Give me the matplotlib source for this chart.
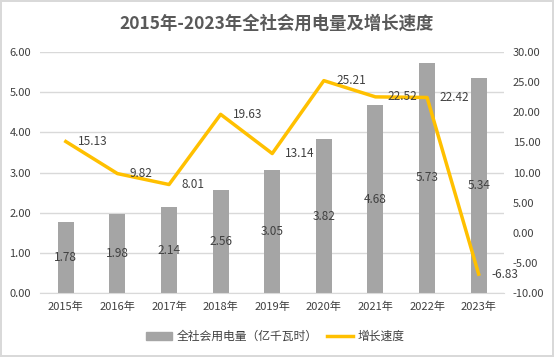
import matplotlib.pyplot as plt
import matplotlib.patches as mpatches
import numpy as np

plt.rcParams['font.family'] = ['Noto Sans CJK SC', 'DejaVu Sans']

years = ["2015年", "2016年", "2017年", "2018年", "2019年", "2020年", "2021年", "2022年", "2023年"]
usage = [1.78, 1.98, 2.14, 2.56, 3.05, 3.82, 4.68, 5.73, 5.34]
growth = [15.13, 9.82, 8.01, 19.63, 13.14, 25.21, 22.52, 22.42, -6.83]

txt = "#404040"
bar_color = "#a5a5a5"
line_color = "#ffc000"

fig = plt.figure(figsize=(5.54, 3.57), dpi=100)
fig.patch.set_edgecolor("#d9d9d9")
fig.patch.set_linewidth(1.5)
ax = fig.add_axes([0.0722, 0.1784, 0.8384, 0.6768])
x = np.arange(len(years))

ax.bar(x, usage, 0.31, color=bar_color, zorder=2)
ax.set_ylim(0, 6)
yt = np.arange(0, 6.01, 1)
ax.set_yticks(yt, [f"{v:.2f}" for v in yt])
ax.set_xlim(-0.5, len(years) - 0.5)
ax.set_xticks(x, years)
ax.grid(axis="y", color="#d9d9d9", linewidth=1, zorder=0)
for s in ["top", "right", "left"]:
    ax.spines[s].set_visible(False)
ax.spines["bottom"].set_color("#d9d9d9")
ax.tick_params(length=0, labelsize=8, colors=txt, pad=6)
ax.tick_params(axis="y", pad=6.5)
# value labels sit in the middle of each bar
for i, v in enumerate(usage):
    ax.text(i, v / 2, f"{v:.2f}", ha="center", va="center", fontsize=8.5, color=txt, zorder=5)

ax2 = ax.twinx()
ax2.plot(x, growth, color=line_color, linewidth=2.5, zorder=3)
ax2.set_ylim(-10, 30)
yt2 = np.arange(-10, 30.1, 5)
ax2.set_yticks(yt2, [f"{v:.2f}" for v in yt2])
for s in ["top", "right", "left", "bottom"]:
    ax2.spines[s].set_visible(False)
ax2.tick_params(length=0, labelsize=8, colors=txt, pad=6)
for i, v in enumerate(growth):
    ax2.annotate(f"{v:.2f}", (i, v), xytext=(9, 0), textcoords="offset points",
                 ha="left", va="center", fontsize=8.5, color=txt, zorder=5)

fig.suptitle("2015年-2023年全社会用电量及增长速度", y=0.96, fontsize=12.5,
             fontweight="bold", color="#595959")

handles = [mpatches.Patch(color=bar_color, label="全社会用电量（亿千瓦时）"),
           plt.Line2D([], [], color=line_color, linewidth=2.5, label="增长速度")]
fig.legend(handles=handles, loc="center", bbox_to_anchor=(0.497, 0.057), ncol=2, frameon=False,
           fontsize=8.5, labelcolor=txt, handlelength=2.2, columnspacing=0.8, handletextpad=0.4)

fig.savefig("out.png", dpi=100, edgecolor=fig.get_edgecolor())
